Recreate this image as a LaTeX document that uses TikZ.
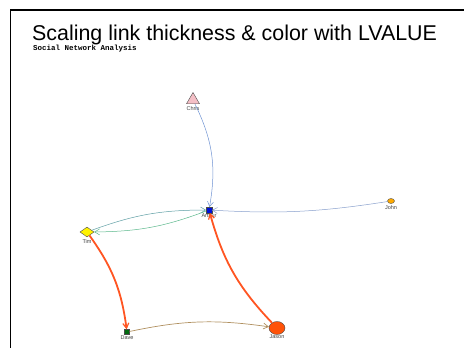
\documentclass[tikz,border=0pt]{standalone}
\usepackage{fontspec}
\setmainfont{Liberation Sans}
\newfontfamily\monofont{Liberation Mono}
\usetikzlibrary{arrows.meta, shapes.geometric, positioning}
\definecolor{chrispink}{HTML}{F4BFC6}
\definecolor{arthurblue}{HTML}{0010D8}
\definecolor{johnorange}{HTML}{FFAA00}
\definecolor{davegreen}{HTML}{006A10}
\definecolor{jasonred}{HTML}{FF5208}
\definecolor{hotlink}{HTML}{FF5522}
\definecolor{bluelink}{HTML}{6E92D2}
\definecolor{greylink}{HTML}{88A0CC}
\definecolor{tealink}{HTML}{5E9EA4}
\definecolor{greenlink}{HTML}{5CB88C}
\definecolor{tanlink}{HTML}{B09060}
\tikzset{
    actor/.style={draw=black!70, line width=0.4pt, inner sep=0pt},
    who/.style={font=\fontsize{5.5}{6}\selectfont, text=black!75, inner sep=0.5pt},
    link/.style={-{Straight Barb[length=5pt, width=6pt]}, line width=0.5pt},
    hot/.style={link, draw=hotlink, line width=1.8pt, -{Straight Barb[length=5pt, width=6pt, line width=1.2pt]}},
}

\begin{document}
\begin{tikzpicture}[x=1pt, y=-1pt]
    \useasboundingbox (0,0) rectangle (464,348);
    % frame
    \draw[line width=1.4pt] (464,10) -- (10.5,10) -- (10.5,348);

    \node[anchor=base west, inner sep=0pt, font=\fontsize{21.4}{24}\selectfont] (title) at (32,41) {Scaling link thickness \& color with LVALUE};
    \node[anchor=base west, inner sep=0pt, font=\monofont\bfseries\fontsize{7.5}{8}\selectfont] (sub) at (33,50) {Social Network Analysis};

    % people
    \node[actor, regular polygon, regular polygon sides=3, fill=chrispink, minimum size=15pt, label={[who, yshift=-1.5pt]below:Chris}] (chris) at (193,100) {};
    \node[actor, rectangle, fill=arthurblue, minimum size=5.5pt, label={[who]below:Arthur}] (arthur) at (209,210) {};
    \node[actor, ellipse, fill=johnorange, minimum width=7pt, minimum height=5pt, label={[who, yshift=-1pt]below:John}] (john) at (391,201) {};
    \node[actor, diamond, fill=yellow, minimum width=14pt, minimum height=10pt, label={[who, yshift=-2pt]below:Tim}] (tim) at (87,232) {};
    \node[actor, rectangle, fill=davegreen, minimum size=5pt, label={[who]below:Dave}] (dave) at (127,332) {};
    \node[actor, ellipse, fill=jasonred, minimum width=16pt, minimum height=13pt, label={[who, yshift=1pt]below:Jason}] (jason) at (277,328) {};

    % links
    \draw (chris) edge[link, draw=bluelink, bend left=18] (arthur);
    \draw (john) edge[link, draw=greylink, bend left=6] (arthur);
    \draw (tim) edge[link, draw=tealink, bend left=10] (arthur);
    \draw (arthur) edge[link, draw=greenlink, bend left=10] (tim);
    \draw (tim) edge[hot, bend left=14] (dave);
    \draw (jason) edge[hot, bend left=14] (arthur);
    \draw (dave) edge[link, draw=tanlink, line width=0.7pt, bend left=10] (jason);
\end{tikzpicture}
\end{document}
